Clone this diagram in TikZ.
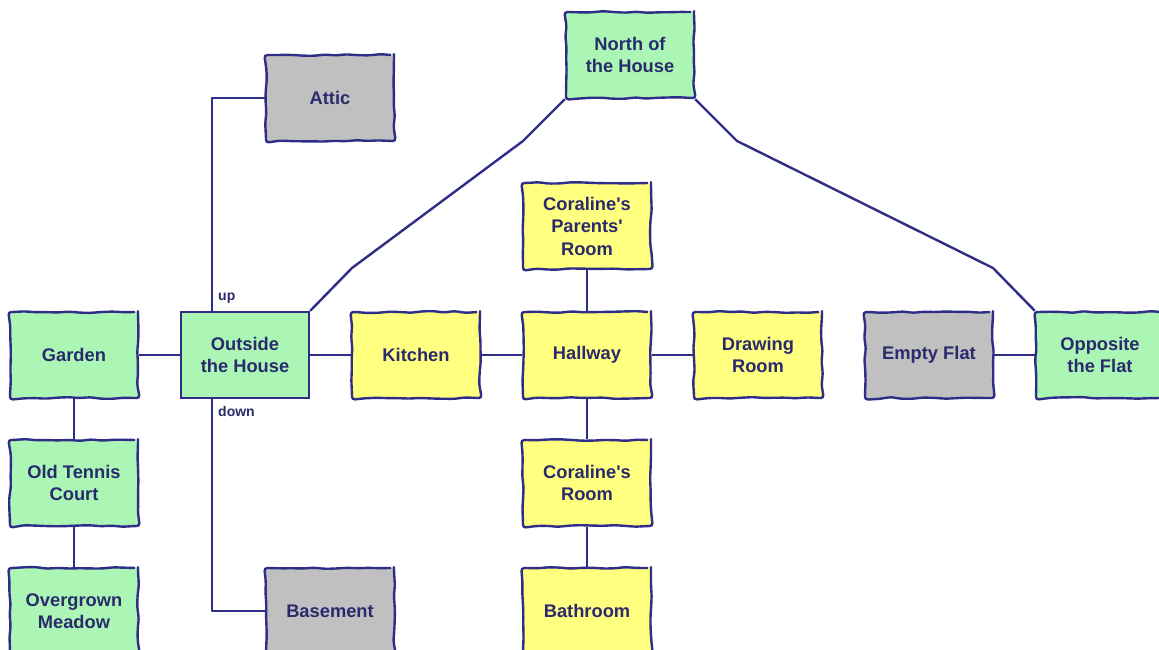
\documentclass[tikz,border=0pt]{standalone}
\usepackage{fontspec}
\setmainfont[Ligatures=TeXOff]{Liberation Sans}
\usetikzlibrary{decorations.pathmorphing}
\definecolor{ln}{HTML}{2E2E88}
\definecolor{tx}{HTML}{2A2A6C}
\definecolor{gr}{HTML}{ABF6B5}
\definecolor{ye}{HTML}{FFFF80}
\definecolor{gy}{HTML}{C0C0C0}
\tikzset{
  room/.style={draw=ln, line width=2.4pt, minimum width=128pt, minimum height=86pt,
    inner sep=0pt, align=center, text=tx, font=\fontsize{18.3}{22.5}\selectfont\bfseries,
    decorate, decoration={random steps, segment length=11pt, amplitude=0.9pt}, rounded corners=3pt},
  plain/.style={draw=ln, line width=2.4pt, minimum width=128pt, minimum height=86pt,
    inner sep=0pt, align=center, text=tx, font=\fontsize{18.3}{22.5}\selectfont\bfseries},
  green/.style={fill=gr}, yel/.style={fill=ye}, grey/.style={fill=gy},
  conn/.style={draw=ln, line width=2.4pt, line join=round},
  lab/.style={text=tx, font=\fontsize{14}{16}\selectfont\bfseries, inner sep=0pt, anchor=west}
}
\begin{document}
\begin{tikzpicture}[x=1pt,y=-1pt]
\pgfmathsetseed{7}
\useasboundingbox (0,0) rectangle (1159,650);
\clip (0,0) rectangle (1159,650);
\coordinate (nl1) at (523,141);
\coordinate (nl2) at (352,268);
\coordinate (nr1) at (737,141);
\coordinate (nr2) at (993,268);
% nodes
\node[room,green] (garden) at (74,355) {Garden};
\node[plain,green] (outside) at (245,355) {Outside\\the House};
\node[room,yel] (kitchen) at (416,355) {Kitchen};
\node[room,yel] (hallway) at (587,355) {Hallway};
\node[room,yel] (drawing) at (758,355) {Drawing\\Room};
\node[room,grey] (empty) at (929,355) {Empty Flat};
\node[room,green] (opposite) at (1100,355) {Opposite\\the Flat};
\node[room,green] (north) at (630,55) {North of\\the House};
\node[room,grey] (attic) at (330,98) {Attic};
\node[room,yel] (parents) at (587,226) {Coraline's\\Parents'\\Room};
\node[room,yel] (coroom) at (587,483) {Coraline's\\Room};
\node[room,yel] (bath) at (587,611) {Bathroom};
\node[room,green] (tennis) at (74,483) {Old Tennis\\Court};
\node[room,green] (meadow) at (74,611) {Overgrown\\Meadow};
\node[room,grey] (basement) at (330,611) {Basement};
% edges
\draw[conn] (garden) -- (outside);
\draw[conn] (outside) -- (kitchen);
\draw[conn] (kitchen) -- (hallway);
\draw[conn] (hallway) -- (drawing);
\draw[conn] (empty) -- (opposite);
\draw[conn] (garden) -- (tennis);
\draw[conn] (tennis) -- (meadow);
\draw[conn] (parents) -- (hallway);
\draw[conn] (hallway) -- (coroom);
\draw[conn] (coroom) -- (bath);
\draw[conn] ([xshift=32pt]outside.north west) |- (attic.west);
\draw[conn] ([xshift=32pt]outside.south west) |- (basement.west);
\draw[conn] (north.south west) -- (nl1) -- (nl2) -- (outside.north east);
\draw[conn] (north.south east) -- (nr1) -- (nr2) -- (opposite.north west);
\node[lab] (up) at (218,298) {up};
\node[lab] (down) at (218,411) {down};
\end{tikzpicture}
\end{document}
